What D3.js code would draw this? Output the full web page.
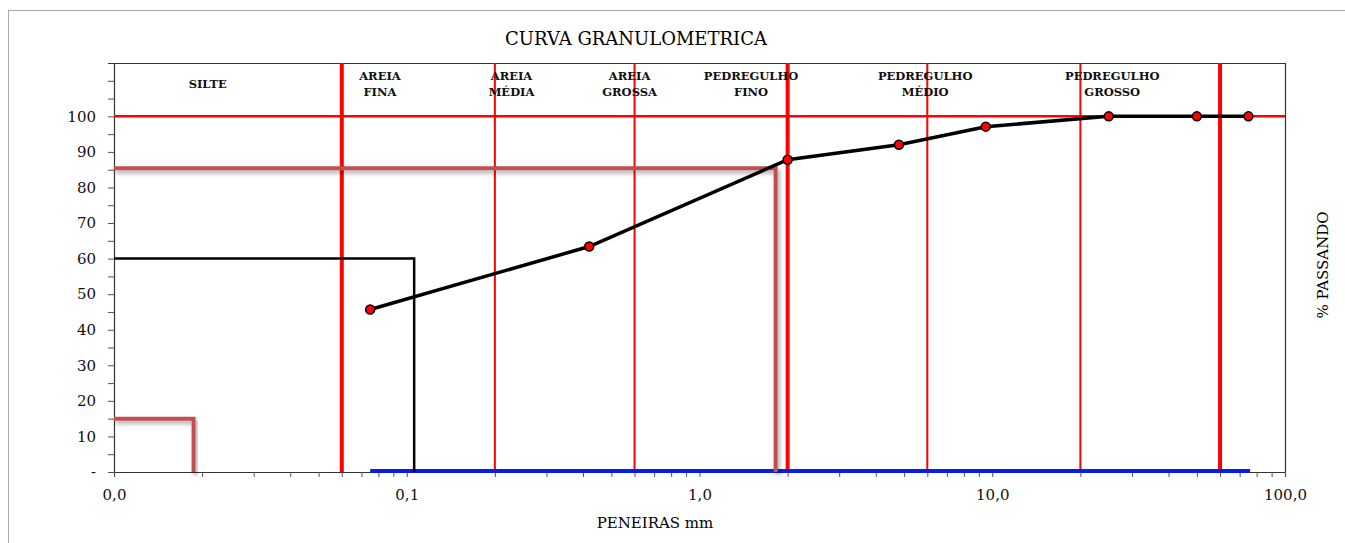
<!DOCTYPE html>
<html>
<head>
<meta charset="utf-8">
<script src="https://cdn.jsdelivr.net/npm/d3@7"></script>
<style>
  body { margin: 0; background: #fff; }
  svg { display: block; font-family: "DejaVu Serif", "Liberation Serif", serif; }
</style>
</head>
<body>
<div id="chart"></div>
<script>
// sieve data (mm / % passing)
const sieveSizes = [0.075, 0.42, 2.0, 4.8, 9.5, 25, 50, 75];
const percentPassing = [45.7, 63.4, 87.8, 92.0, 97.1, 100, 100, 100];

// blue series lying on zero
const zeroSizes = [0.075, 76];
const zeroValues = [0, 0];

// soil class boundaries (mm)
const mainBoundaries = [0.06, 2.0, 60];
const subBoundaries = [0.2, 0.6, 6.0, 20];

// zone names and where they sit (mm)
const zoneNames = [["SILTE"], ["AREIA", "FINA"], ["AREIA", "MÉDIA"], ["AREIA", "GROSSA"],
                   ["PEDREGULHO", "FINO"], ["PEDREGULHO", "MÉDIO"], ["PEDREGULHO", "GROSSO"]];
const zoneAt = [0.0209, 0.081, 0.228, 0.577, 1.5, 5.9, 25.7];

// reference lines drawn over the chart
const d60Line = [[0.01, 60], [0.106, 60], [0.106, 0]];
const marker85Line = [[0.01, 85.4], [1.82, 85.4], [1.82, 0]];
const marker15Line = [[0.01, 15], [0.0187, 15], [0.0187, 0]];

// tick labels
const xTickValues = [0.01, 0.1, 1, 10, 100];
const xTickLabels = ["0,0", "0,1", "1,0", "10,0", "100,0"];
const yTickValues = [0, 10, 20, 30, 40, 50, 60, 70, 80, 90, 100];
const yTickLabels = ["-", "10", "20", "30", "40", "50", "60", "70", "80", "90", "100"];

const W = 1345, H = 543;
const plotL = 114, plotR = 1285, plotT = 63, plotB = 472;

const svg = d3.select("#chart").append("svg")
    .attr("width", W)
    .attr("height", H);

// shadow for the hand drawn marks
const defs = svg.append("defs");
const f = defs.append("filter").attr("id", "shadow")
    .attr("x", "-5%").attr("y", "-5%").attr("width", "110%").attr("height", "115%");
f.append("feDropShadow")
    .attr("dx", 2).attr("dy", 3).attr("stdDeviation", 2)
    .attr("flood-color", "#000").attr("flood-opacity", 0.35);

// outer border
svg.append("rect")
    .attr("x", 8.5).attr("y", 10.5)
    .attr("width", W).attr("height", H)
    .attr("fill", "none")
    .attr("stroke", "#aaa");

const x = d3.scaleLog().domain([0.01, 100]).range([plotL, plotR]);
const y = d3.scaleLinear().domain([0, 115]).range([plotB, plotT]);

// frame top and right
svg.append("path")
    .attr("d", `M${plotL},${plotT + 0.5}H${plotR + 0.5}V${plotB}`)
    .attr("fill", "none")
    .attr("stroke", "#333")
    .attr("stroke-width", 1.2);

// title
svg.append("text")
    .attr("x", 636).attr("y", 45)
    .attr("text-anchor", "middle")
    .attr("font-size", 18)
    .text("CURVA GRANULOMETRICA");

// Y axis
const yTicksAll = d3.range(0, 115, 5);
const yAxis = svg.append("g")
    .attr("transform", `translate(${plotL},0)`)
    .call(d3.axisLeft(y)
        .tickValues(yTicksAll)
        .tickSize(6)
        .tickPadding(12)
        .tickFormat(d => {
            const i = yTickValues.indexOf(d);
            return i >= 0 ? yTickLabels[i] : "";
        }));
yAxis.select(".domain").attr("stroke", "#333").attr("stroke-width", 1.2);
yAxis.selectAll(".tick line").attr("stroke", "#555");
yAxis.selectAll("text").attr("font-size", 15).attr("fill", "#111")
    .attr("font-family", "DejaVu Serif, serif");

// X axis
const xTicksAll = [];
[0.01, 0.1, 1, 10].forEach(dec => {
    for (let k = 1; k < 10; k++) xTicksAll.push(dec * k);
});
xTicksAll.push(100);
const xAxis = svg.append("g")
    .attr("transform", `translate(0,${plotB})`)
    .call(d3.axisBottom(x)
        .tickValues(xTicksAll)
        .tickSize(5)
        .tickPadding(12)
        .tickFormat(d => {
            const i = xTickValues.findIndex(v => Math.abs(v - d) < 1e-9);
            return i >= 0 ? xTickLabels[i] : "";
        }));
xAxis.select(".domain").attr("stroke", "#333").attr("stroke-width", 1.2);
xAxis.selectAll(".tick line").attr("stroke", "#555");
xAxis.selectAll("text").attr("font-size", 15).attr("fill", "#111")
    .attr("font-family", "DejaVu Serif, serif");

// axis titles
svg.append("text")
    .attr("x", 655).attr("y", 528)
    .attr("text-anchor", "middle")
    .attr("font-size", 15)
    .text("PENEIRAS mm");

svg.append("text")
    .attr("transform", "translate(1328,265) rotate(-90)")
    .attr("text-anchor", "middle")
    .attr("font-size", 15)
    .text("% PASSANDO");

// boundaries
svg.selectAll(".sub-boundary")
    .data(subBoundaries)
    .enter()
    .append("line")
    .attr("x1", d => x(d)).attr("x2", d => x(d))
    .attr("y1", plotT).attr("y2", plotB)
    .attr("stroke", "#ff0000")
    .attr("stroke-width", 2);

svg.selectAll(".main-boundary")
    .data(mainBoundaries)
    .enter()
    .append("line")
    .attr("x1", d => x(d)).attr("x2", d => x(d))
    .attr("y1", plotT).attr("y2", plotB)
    .attr("stroke", "#ff0000")
    .attr("stroke-width", 4);

// 100% line
svg.append("line")
    .attr("x1", plotL).attr("x2", plotR)
    .attr("y1", y(100)).attr("y2", y(100))
    .attr("stroke", "#ff0000")
    .attr("stroke-width", 2.5);

// zone labels
const zones = svg.selectAll(".zone")
    .data(zoneNames)
    .enter()
    .append("text")
    .attr("class", "zone")
    .attr("text-anchor", "middle")
    .attr("font-size", 11.5)
    .attr("font-weight", "bold")
    .attr("fill", "#111");
zones.each(function (lines, i) {
    d3.select(this).selectAll("tspan")
        .data(lines)
        .enter()
        .append("tspan")
        .attr("x", x(zoneAt[i]))
        .attr("y", (d, j) => lines.length === 1 ? 88 : 80 + j * 16)
        .text(d => d);
});

const line = d3.line().x(d => x(d[0])).y(d => y(d[1]));

// blue zero series
svg.append("path")
    .datum(zeroSizes.map((s, i) => [s, zeroValues[i]]))
    .attr("d", line)
    .attr("transform", "translate(0,-1)")
    .attr("fill", "none")
    .attr("stroke", "#0a1de8")
    .attr("stroke-width", 4);

// D60 guide
svg.append("path")
    .datum(d60Line)
    .attr("d", line)
    .attr("fill", "none")
    .attr("stroke", "#000")
    .attr("stroke-width", 2.5);

// hand drawn marks
[marker85Line, marker15Line].forEach(pts => {
    svg.append("path")
        .datum(pts)
        .attr("d", line)
        .attr("fill", "none")
        .attr("stroke", "#c0504d")
        .attr("stroke-width", 4)
        .attr("filter", "url(#shadow)");
});

// grading curve
const curve = sieveSizes.map((s, i) => [s, percentPassing[i]]);
svg.append("path")
    .datum(curve)
    .attr("d", line)
    .attr("fill", "none")
    .attr("stroke", "#000")
    .attr("stroke-width", 3.5);

svg.selectAll(".pt")
    .data(curve)
    .enter()
    .append("circle")
    .attr("class", "pt")
    .attr("cx", d => x(d[0]))
    .attr("cy", d => y(d[1]))
    .attr("r", 4.5)
    .attr("fill", "#ff0000")
    .attr("stroke", "#000")
    .attr("stroke-width", 1.5);
</script>
</body>
</html>
